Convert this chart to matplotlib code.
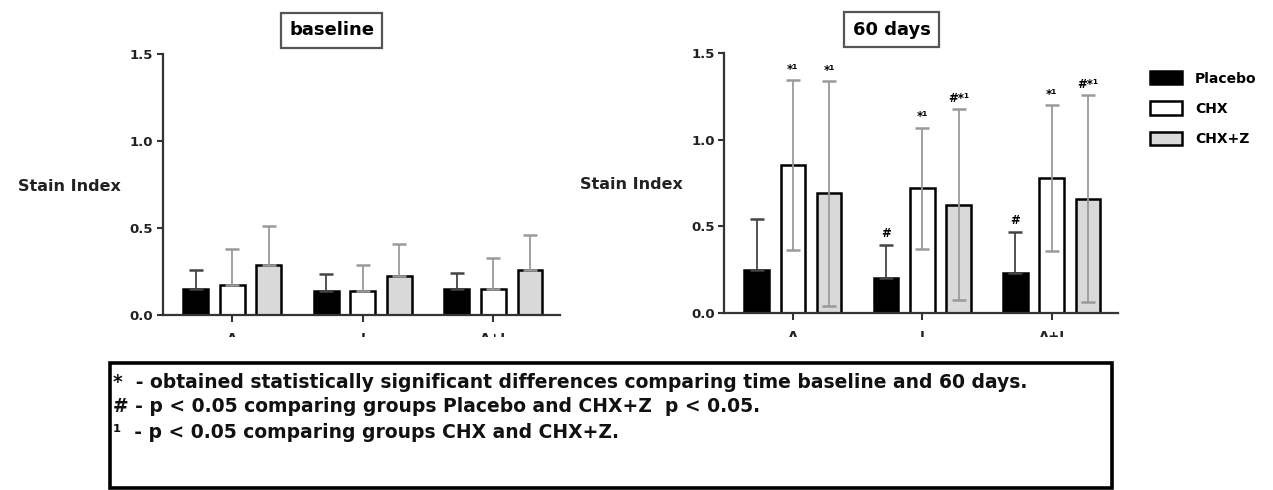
import numpy as np
import matplotlib.pyplot as plt
from matplotlib.patches import Rectangle

# groups on the x axis and the three treatments
groups = ['A', 'I', 'A+I']
series = ['Placebo', 'CHX', 'CHX+Z']

# baseline: mean and SD (one sided error bars)
base_placebo = [0.15, 0.14, 0.15]
base_chx = [0.17, 0.14, 0.15]
base_chxz = [0.29, 0.225, 0.26]
base_placebo_sd = [0.11, 0.095, 0.09]
base_chx_sd = [0.21, 0.145, 0.18]
base_chxz_sd = [0.22, 0.185, 0.20]

# 60 days
d60_placebo = [0.25, 0.205, 0.23]
d60_chx = [0.855, 0.72, 0.78]
d60_chxz = [0.69, 0.625, 0.66]
d60_placebo_sd = [0.29, 0.19, 0.24]
d60_chx_sd = [0.49, 0.35, 0.42]
d60_chxz_sd = [0.65, 0.55, 0.595]

# significance marks above the 60 days bars
d60_placebo_marks = ['', '#', '#']
d60_chx_marks = ['*¹', '*¹', '*¹']
d60_chxz_marks = ['*¹', '#*¹', '#*¹']

footnotes = [
    '*  - obtained statistically significant differences comparing time baseline and 60 days.',
    '# - p < 0.05 comparing groups Placebo and CHX+Z  p < 0.05.',
    '¹  - p < 0.05 comparing groups CHX and CHX+Z.',
]

fills = ['black', 'white', '#d9d9d9']
err_colors = ['#444444', '#9a9a9a', '#9a9a9a']
FONT = 'DejaVu Sans'


def draw_panel(ax, title, means, sds, two_sided, marks=None):
    x = np.arange(len(groups))
    offs = [-0.28, 0, 0.28]
    for i, (m, s) in enumerate(zip(means, sds)):
        m = np.array(m)
        s = np.array(s)
        ax.bar(x + offs[i], m, width=0.19, color=fills[i], edgecolor='black',
               linewidth=1.8, label=series[i], zorder=2)
        low = s if two_sided[i] else np.zeros_like(s)
        ax.errorbar(x + offs[i], m, yerr=[low, s], fmt='none', ecolor=err_colors[i],
                    elinewidth=1.3, capsize=5, capthick=1.8, zorder=3)
        if marks is not None:
            for xi, top, mk in zip(x + offs[i], m + s, marks[i]):
                if mk:
                    ax.annotate(mk, (xi, top), xytext=(0, 3), textcoords='offset points',
                                ha='center', va='bottom', fontsize=8.5, fontweight='bold',
                                family=FONT)

    ax.set_xlim(-0.53, 2.51)
    ax.set_ylim(0, 1.5)
    ax.set_yticks([0, 0.5, 1.0, 1.5])
    ax.set_yticklabels(['0.0', '0.5', '1.0', '1.5'])
    ax.set_xticks(x)
    ax.set_xticklabels(groups)
    for sp in ['top', 'right']:
        ax.spines[sp].set_visible(False)
    for sp in ['left', 'bottom']:
        ax.spines[sp].set_linewidth(1.6)
        ax.spines[sp].set_color('#333333')
    ax.tick_params(axis='y', direction='out', length=4, width=1.5, color='#333333',
                   labelsize=9.5, pad=3)
    ax.tick_params(axis='x', direction='out', length=5, width=1.5, color='#333333',
                   labelsize=9.5, pad=7)
    for lab in ax.get_xticklabels() + ax.get_yticklabels():
        lab.set_fontweight('bold')
        lab.set_family(FONT)
        lab.set_color('#222222')

    ax.set_ylabel('Stain Index', rotation=0, ha='right', va='center', fontsize=11.5,
                  fontweight='bold', family=FONT, color='#222222')
    ax.yaxis.set_label_coords(-0.105, 0.494)

    ax.text(0.425, 1.09, title, transform=ax.transAxes, ha='center', va='center',
            fontsize=13, fontweight='bold', family=FONT,
            bbox=dict(boxstyle='square,pad=0.45', fc='white', ec='#555555', lw=1.6))


if __name__ == "__main__":
    fig = plt.figure(figsize=(12.73, 4.9), dpi=100)
    ax1 = fig.add_axes([0.128, 0.357, 0.312, 0.533])
    ax2 = fig.add_axes([0.569, 0.361, 0.309, 0.531])

    draw_panel(ax1, 'baseline',
               [base_placebo, base_chx, base_chxz],
               [base_placebo_sd, base_chx_sd, base_chxz_sd],
               [False, False, False])
    draw_panel(ax2, '60 days',
               [d60_placebo, d60_chx, d60_chxz],
               [d60_placebo_sd, d60_chx_sd, d60_chxz_sd],
               [False, True, True],
               [d60_placebo_marks, d60_chx_marks, d60_chxz_marks])

    leg = ax2.legend(loc='upper left', bbox_to_anchor=(0.898, 0.869),
                     bbox_transform=fig.transFigure, frameon=False, borderpad=0,
                     handlelength=2.3, handleheight=1.1, handletextpad=0.95,
                     labelspacing=1.15, prop=dict(family=FONT, weight='bold', size=10))

    # the x tick labels are cut off in the source image
    fig.add_artist(Rectangle((0, 0), 1, (490 - 337) / 490, transform=fig.transFigure,
                             facecolor='white', edgecolor='none', zorder=5))
    fig.add_artist(Rectangle((110 / 1273, 2 / 490), 1002 / 1273, 125 / 490,
                             transform=fig.transFigure, fill=False, edgecolor='black',
                             linewidth=2.6, zorder=6))
    for k, line in enumerate(footnotes):
        fig.text(113 / 1273, 1 - (382 + 25 * k) / 490, line, ha='left', va='center',
                 fontsize=13.5, fontweight='bold', family=FONT, color='#111111', zorder=7)

    fig.savefig('out.png', dpi=100)
